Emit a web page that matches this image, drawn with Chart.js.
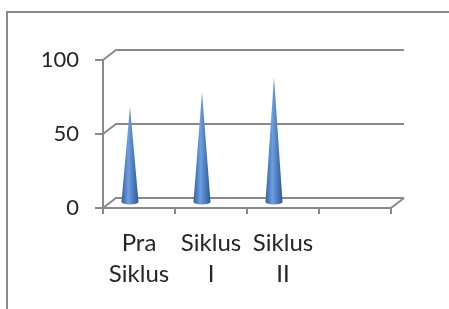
<!DOCTYPE html>
<html>
<head>
<meta charset="utf-8">
<script src="https://cdn.jsdelivr.net/npm/chart.js@4.4.1/dist/chart.umd.min.js"></script>
<style>
  html, body { margin: 0; padding: 0; background: #fff; }
  #wrap { width: 449px; height: 309px; position: relative; }
</style>
</head>
<body>
<div id="wrap"><canvas id="chart"></canvas></div>
<script>
const categories = ['Pra Siklus', 'Siklus I', 'Siklus II', ''];
const scores = [65, 75, 85, null];
const yTicks = [0, 50, 100];

const lineGray = '#8a8a8a';
const depthX = 13, depthY = -10;

// back wall, connectors and floor edge, drawn on the y scale positions
const wall3d = {
  id: 'wall3d',
  beforeDatasetsDraw(chart) {
    const { ctx, chartArea: a, scales: { y } } = chart;
    ctx.save();
    ctx.strokeStyle = lineGray;
    ctx.lineWidth = 2;
    // outer frame
    ctx.beginPath();
    ctx.moveTo(7, 309);
    ctx.lineTo(7, 12);
    ctx.lineTo(449, 12);
    ctx.stroke();
    yTicks.forEach(v => {
      const py = y.getPixelForValue(v);
      ctx.beginPath();
      ctx.moveTo(a.left, py);
      ctx.lineTo(a.left + depthX, py + depthY);
      ctx.lineTo(a.right + depthX, py + depthY);
      ctx.stroke();
    });
    ctx.beginPath();
    ctx.moveTo(a.right, a.bottom);
    ctx.lineTo(a.right + depthX, a.bottom + depthY);
    ctx.stroke();
    ctx.restore();
  }
};

// cones on top of the (invisible) bars
const cones = {
  id: 'cones',
  afterDatasetsDraw(chart) {
    const ctx = chart.ctx;
    const meta = chart.getDatasetMeta(0);
    meta.data.forEach((bar, i) => {
      if (scores[i] == null) return;
      const cx = bar.x - 9, tip = bar.y - 5, base = bar.base - 5, r = 8.5;
      const g = ctx.createLinearGradient(cx - r, 0, cx + r, 0);
      g.addColorStop(0, '#30609f');
      g.addColorStop(0.4, '#6d9fe0');
      g.addColorStop(1, '#2b5896');
      ctx.save();
      ctx.fillStyle = g;
      ctx.beginPath();
      ctx.moveTo(cx, tip);
      ctx.lineTo(cx + r, base);
      ctx.ellipse(cx, base, r, 2.5, 0, 0, Math.PI);
      ctx.closePath();
      ctx.fill();
      ctx.restore();
    });
  }
};

new Chart(document.getElementById('chart'), {
  type: 'bar',
  data: {
    labels: categories,
    datasets: [{
      data: scores,
      backgroundColor: 'rgba(0,0,0,0)',
      borderWidth: 0
    }]
  },
  options: {
    responsive: true,
    maintainAspectRatio: false,
    animation: false,
    layout: { padding: { top: 60, right: 58, bottom: 0, left: 0 } },
    plugins: { legend: { display: false }, tooltip: { enabled: false } },
    scales: {
      x: {
        afterFit(s) { s.height = 101; },
        grid: { offset: true, drawOnChartArea: false, tickLength: 6, color: lineGray, lineWidth: 2 },
        border: { display: true, color: lineGray, width: 2 },
        ticks: {
          maxRotation: 0,
          autoSkip: false,
          padding: 14,
          color: '#262626',
          font: { family: 'Lato', size: 24, lineHeight: 1.28 },
          callback(v, i) { return categories[i] ? categories[i].split(' ') : ''; }
        }
      },
      y: {
        min: 0,
        max: 100,
        afterFit(s) { s.width = 103; },
        afterBuildTicks(s) { s.ticks = yTicks.map(v => ({ value: v })); },
        grid: { drawOnChartArea: false, tickLength: 8, color: lineGray, lineWidth: 2 },
        border: { display: true, color: lineGray, width: 2 },
        ticks: {
          padding: 16,
          color: '#262626',
          font: { family: 'Lato', size: 22 }
        }
      }
    }
  },
  plugins: [wall3d, cones]
});
</script>
</body>
</html>
